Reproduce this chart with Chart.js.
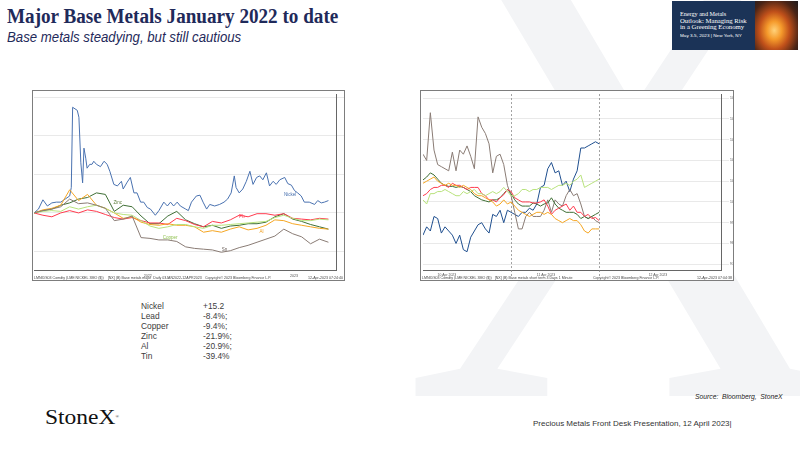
<!DOCTYPE html>
<html>
<head>
<meta charset="utf-8">
<script src="https://cdn.jsdelivr.net/npm/chart.js@4.4.0/dist/chart.umd.min.js"></script>
<style>
  html, body { margin: 0; padding: 0; width: 800px; height: 450px; overflow: hidden; background: #fff; }
  #slide { position: relative; width: 800px; height: 450px; overflow: hidden; font-family: "Liberation Sans", Arial, sans-serif; }
  #bigx { position: absolute; left: 402px; top: -190px; font-family: "Liberation Serif", serif; font-size: 700px; line-height: 1; color: #f3f4f6; transform: scaleX(0.88); transform-origin: left top; }
  .fit { position: absolute; white-space: nowrap; transform-origin: left top; }
  #title { left: 7px; top: 6px; font-family: "Liberation Serif", serif; font-weight: bold; font-size: 20px; line-height: 20px; color: #1f2a5a; }
  #subtitle { left: 7px; top: 29px; font-family: "Liberation Sans Narrow", "Liberation Sans", sans-serif; font-style: italic; font-size: 14px; line-height: 16px; color: #1f2a5a; }
  .box { position: absolute; background: #fff; border: 1px solid #7d7d7d; box-sizing: border-box; }
  .box .cv { position: absolute; left: 0; top: 0; right: 0; bottom: 0; }
  .foot { position: absolute; top: 185px; font-size: 3.6px; line-height: 4px; color: #444; white-space: nowrap; }
  #banner { position: absolute; left: 672px; top: 1px; width: 126px; height: 49px; background: #1b3357; overflow: hidden; }
  #banner .fire { position: absolute; left: 83px; top: 0; width: 43px; height: 49px;
    background: radial-gradient(ellipse at 45% 60%, #ffd27a 0%, #f59a2b 22%, #c0501a 45%, #4a2416 75%, #1d1a1e 100%); }
  #banner .fit { color: #fff; left: 8px; }
  #banner .t { font-family: "Liberation Serif", serif; font-size: 6px; line-height: 6px; }
  #banner .d { font-size: 4.4px; line-height: 5px; }
  #list { position: absolute; left: 141px; top: 301px; font-size: 8.4px; line-height: 10px; color: #3d3d3d; }
  #list div { position: relative; height: 10px; }
  #list span { position: absolute; left: 62px; }
  #source { left: 695px; top: 393px; font-style: italic; font-size: 6.6px; color: #222; }
  #deck { left: 533px; top: 419px; font-size: 8px; color: #333; }
  #logo { left: 45px; top: 406px; font-family: "Liberation Serif", serif; font-size: 20px; line-height: 22px; color: #111; }
  #logo sup { font-size: 4px; vertical-align: top; }
</style>
</head>
<body>
<div id="slide">
  <div id="bigx">X</div>

  <div id="title" class="fit">Major Base Metals January 2022 to date</div>
  <div id="subtitle" class="fit">Base metals steadying, but still cautious</div>

  <div id="banner">
    <div class="fire"></div>
    <div id="b1" class="fit t" style="top:10px">Energy and Metals</div>
    <div id="b2" class="fit t" style="top:16.5px">Outlook: Managing Risk</div>
    <div id="b3" class="fit t" style="top:23px">in a Greening Economy</div>
    <div id="b4" class="fit d" style="top:31.5px">May 3-5, 2023 | New York, NY</div>
  </div>

  <div class="box" style="left:32px; top:90px; width:313px; height:191px;">
    <div class="cv"><canvas id="longChart"></canvas></div>
    <div class="foot" style="left:1px">LMNIDS03 Comdty (LME NICKEL 3MO ($))&nbsp;&nbsp;&nbsp; [NX] (B) Base metals major&nbsp;&nbsp;Daily 03JAN2022-12APR2023</div>
    <div class="foot" style="left:172px">Copyright© 2023 Bloomberg Finance L.P.</div>
    <div class="foot" style="right:1px">12-Apr-2023 07:24:40</div>
  </div>

  <div class="box" style="left:420px; top:90px; width:314px; height:191px;">
    <div class="cv"><canvas id="shortChart"></canvas></div>
    <div class="foot" style="left:1px">LMNIDS03 Comdty (LME NICKEL 3MO ($))&nbsp;&nbsp; [NX] (B) Base metals short term 3 Days 1 Minute</div>
    <div class="foot" style="left:172px">Copyright© 2023 Bloomberg Finance L.P.</div>
    <div class="foot" style="right:1px">12-Apr-2023 07:04:38</div>
  </div>

  <div id="list"></div>

  <div id="source" class="fit">Source:&nbsp; Bloomberg,&nbsp; StoneX</div>
  <div id="logo" class="fit">StoneX<sup>®</sup></div>
  <div id="deck" class="fit">Precious Metals Front Desk Presentation, 12 April 2023|</div>
</div>

<script>
// ---- long chart: rebased to 100 on 3 Jan 2022, x = weeks since then ----
const longWeeks = [0, 2, 4, 6, 8, 10, 12, 14, 16, 18, 20, 22, 24, 26, 28, 30, 32, 34, 36, 38, 40, 42, 44, 46, 48, 50, 52, 54, 56, 58, 60, 62, 64, 66];
const zincLong   = [100, 103, 105, 110, 113, 118, 120, 126, 124, 102, 110, 108, 96, 86, 86, 96, 102, 91, 86, 82, 84, 80, 83, 84, 86, 86, 88, 95, 99, 92, 89, 85, 82, 79];
const alLong     = [100, 104, 106, 110, 130, 116, 124, 110, 106, 100, 93, 95, 88, 85, 84, 86, 84, 84, 82, 75, 77, 75, 79, 82, 78, 80, 84, 91, 90, 86, 84, 82, 80, 79];
const copperLong = [100, 102, 103, 102, 108, 105, 108, 110, 106, 100, 98, 97, 90, 83, 80, 82, 85, 85, 82, 80, 84, 84, 85, 86, 87, 88, 89, 94, 97, 93, 90, 90, 92, 91];
const leadLong   = [100, 97, 95, 100, 103, 100, 104, 102, 98, 94, 92, 94, 90, 87, 87, 85, 93, 90, 85, 82, 89, 87, 91, 97, 95, 99, 99, 97, 99, 93, 92, 91, 93, 92];
const tinLong    = [100, 103, 105, 108, 118, 112, 113, 110, 106, 90, 92, 96, 68, 67, 65, 65, 63, 56, 54, 53, 52, 49, 51, 55, 58, 62, 66, 70, 79, 73, 69, 60, 66, 62];

// nickel needs more points round the March 2022 squeeze
const nickelWeeks = [0, 1, 2, 3, 4, 5, 6, 7, 8, 8.36, 8.66, 9.7, 10.07, 10.5, 10.9, 11.2, 11.6, 11.9, 12.5, 13, 13.4, 14, 14.9, 15.7, 16.4, 17, 17.9, 18.7, 19.6, 20, 20.9, 21.6, 22.4, 23.1, 23.9, 24.6, 25.4, 26.1, 27.2, 28, 29.1, 29.9, 30.6, 31.3, 32.1, 32.8, 34, 34.6, 35.3, 36.4, 37.2, 37.9, 38.7, 39.4, 40.5, 41.6, 42.6, 43.4, 44.2, 44.9, 45.3, 46, 46.8, 47.6, 48.4, 49.1, 49.9, 50.6, 51.3, 52.1, 52.8, 53.6, 54.3, 55.1, 56.2, 56.9, 57.7, 58.4, 59.1, 59.9, 60.6, 61.7, 62.9, 63.6, 64.4, 65.1, 66];
const nickelLong  = [100, 105, 117, 109, 113, 114, 114, 118, 122, 133, 237, 233, 224, 165, 139, 184, 171, 158, 163, 163, 167, 163, 160, 167, 163, 154, 137, 135, 141, 131, 140, 146, 126, 126, 114, 114, 107, 105, 97, 103, 114, 109, 114, 109, 114, 109, 105, 103, 114, 122, 123, 114, 105, 111, 109, 111, 114, 118, 126, 148, 133, 126, 131, 141, 154, 137, 146, 148, 143, 152, 135, 141, 137, 143, 146, 138, 136, 129, 126, 122, 114, 114, 111, 116, 113, 114, 116];

const monthLabels = ['Jan', 'Feb', 'Mar', 'Apr', 'May', 'Jun', 'Jul', 'Aug', 'Sep', 'Oct', 'Nov', 'Dec', 'Jan', 'Feb', 'Mar', 'Apr'];
const yearLabels  = ['2022', '2023'];
const longTicks   = [50, 100, 150, 200, 250];
const longNotes   = [
  { text: 'Nickel', x: 57.4, y: 123, color: '#4a72b0' },
  { text: 'Zinc',   x: 18.8, y: 113, color: '#5b7d3a' },
  { text: 'Copper', x: 30.5, y: 68,  color: '#8cbf4a' },
  { text: 'Pb',     x: 46.6, y: 95,  color: '#ff3b4e' },
  { text: 'Al',     x: 51,   y: 75,  color: '#f0a020' },
  { text: 'Sn',     x: 42.7, y: 52,  color: '#6d625c' }
];

// ---- short chart: 1-minute bars rebased, x = hours from start of first day ----
const shortHours = [0, 1, 2, 3, 4, 5, 6, 7, 8, 9, 10, 11, 12, 13, 14, 15, 16, 17, 18, 19, 20, 21, 22, 23, 24, 25, 26, 27, 28, 29, 30, 31, 32, 33, 34, 35, 36, 37, 38, 39, 40, 41, 42, 43, 44, 45, 46, 47, 48];
const tinShort    = [102.3, 102.0, 104.3, 102.5, 101.8, 101.7, 101.6, 101.5, 102.4, 101.5, 102.5, 102.3, 102.7, 102.2, 101.6, 104.1, 103.6, 103.3, 102.8, 101.4, 102.2, 102.3, 101.8, 100.8, 100.3, 99.5, 98.7, 98.7, 99.3, 99.5, 99.3, 99.3, 99.3, 99.6, 100.1, 99.5, 100.1, 99.9, 99.8, 100.3, 100.6, 100.3, 100.4, 99.9, 99.3, 99.2, 99.3, 99.1, 99.0];
const nickelShort = [98.4, 98.8, 98.6, 99.3, 99.2, 98.5, 98.8, 98.6, 98.4, 98.0, 98.4, 97.7, 97.6, 98.3, 98.6, 98.9, 99.0, 98.7, 98.5, 99.4, 99.3, 99.6, 99.0, 99.6, 99.5, 99.4, 99.3, 99.5, 99.5, 99.7, 99.6, 99.9, 100.7, 100.8, 101.6, 101.9, 101.4, 101.5, 100.8, 101.0, 100.5, 101.1, 101.5, 102.6, 102.6, 102.7, 102.8, 102.9, 102.8];
const copperShort = [100.1, 99.9, 100.4, 100.4, 100.5, 100.5, 100.6, 100.5, 100.4, 100.3, 100.3, 100.5, 100.4, 100.5, 100.6, 100.4, 100.4, 100.3, 100.4, 100.5, 100.4, 100.5, 100.7, 100.5, 100.3, 100.3, 100.4, 100.6, 100.6, 100.5, 100.6, 100.6, 100.7, 100.7, 100.7, 100.6, 100.7, 100.8, 100.8, 100.9, 100.8, 101.0, 101.1, 101.3, 100.7, 100.8, 100.9, 101.0, 101.1];
const alShort     = [100.9, 101.0, 101.1, 101.2, 101.0, 100.9, 100.8, 100.9, 100.8, 100.8, 100.7, 100.8, 100.7, 100.6, 100.4, 100.3, 100.3, 100.2, 100.1, 100.0, 99.8, 99.9, 100.1, 99.9, 100.0, 99.8, 99.6, 99.5, 99.4, 99.3, 99.4, 99.5, 99.5, 99.4, 99.5, 99.4, 99.2, 99.1, 99.0, 99.1, 99.2, 99.1, 99.1, 98.9, 98.6, 98.5, 98.7, 98.7, 98.7];
const leadShort   = [100.3, 100.4, 100.6, 100.7, 100.7, 100.8, 100.8, 100.7, 100.9, 100.8, 100.8, 100.7, 100.6, 100.7, 100.7, 100.7, 100.4, 100.3, 100.1, 100.1, 100.0, 100.2, 100.35, 100.6, 100.5, 100.2, 100.1, 100.0, 100.0, 100.0, 99.95, 99.95, 100.0, 100.1, 99.8, 99.4, 99.6, 99.7, 99.8, 99.9, 99.6, 99.8, 99.5, 99.5, 99.3, 99.4, 99.2, 99.25, 99.1];
const zincShort   = [101.06, 101.2, 101.4, 101.3, 101.1, 100.9, 100.8, 100.75, 100.75, 100.7, 100.75, 100.7, 100.6, 100.5, 100.3, 100.2, 100.1, 100.05, 100.0, 100.1, 100.1, 100.2, 100.4, 100.6, 100.4, 100.1, 99.9, 99.8, 99.8, 99.8, 99.95, 99.9, 99.8, 99.9, 99.95, 100.2, 99.9, 99.7, 99.6, 99.5, 99.5, 99.5, 99.4, 99.2, 99.3, 99.2, 99.3, 99.4, 99.5];

const timeTicks  = [4, 10, 16, 22, 28, 34, 40, 46, 52, 58, 64, 70, 76];
const timeLabels = ['04:00', '10:00', '16:00', '22:00', '04:00', '10:00', '16:00', '22:00', '04:00', '10:00', '16:00', '22:00', '04:00'];
const dayLabels  = ['10 Apr 2023', '11 Apr 2023', '12 Apr 2023'];
const dayLabelAt = [6.5, 33.5, 64];
const dayBreaks  = [24, 48];
const shortTicks = [97, 98, 99, 100, 101, 102, 103, 104, 105];

// ---- text block under the left chart ----
const listNames  = ['Nickel', 'Lead', 'Copper', 'Zinc', 'Al', 'Tin'];
const listValues = ['+15.2', '-8.4%;', '-9.4%;', '-21.9%;', '-20.9%;', '-39.4%'];

const colors = {
  nickel: '#4a72b0', nickelDark: '#1f4f8f', zinc: '#3f6f35', lead: '#ff3b4e',
  al: '#f5a623', copper: '#b8e27c', tin: '#8a7c75'
};

Chart.defaults.font.family = '"Liberation Sans", Arial, sans-serif';
Chart.defaults.color = '#555';

const series = (xs, ys, color) => ({
  data: xs.map((x, i) => ({ x, y: ys[i] })),
  borderColor: color,
  borderWidth: 1,
  pointRadius: 0,
  tension: 0,
  fill: false
});

const notesPlugin = {
  id: 'notes',
  afterDraw(chart, args, opts) {
    const { ctx, chartArea, scales: { x, y } } = chart;
    ctx.save();
    ctx.textAlign = 'center';
    ctx.textBaseline = 'middle';
    (opts.items || []).forEach((it) => {
      ctx.font = `${it.size || 4.5}px "Liberation Sans"`;
      ctx.fillStyle = it.color || '#555';
      const py = it.y !== undefined ? y.getPixelForValue(it.y) : chartArea.bottom + it.dy;
      ctx.fillText(it.text, x.getPixelForValue(it.x), py);
    });
    ctx.restore();
  }
};

const breaksPlugin = {
  id: 'breaks',
  beforeDatasetsDraw(chart, args, opts) {
    const { ctx, chartArea, scales: { x } } = chart;
    ctx.save();
    ctx.strokeStyle = '#8a8a8a';
    ctx.lineWidth = 0.8;
    ctx.setLineDash([2, 2]);
    (opts.at || []).forEach((v) => {
      const px = Math.round(x.getPixelForValue(v)) + 0.5;
      ctx.beginPath();
      ctx.moveTo(px, chartArea.top);
      ctx.lineTo(px, chartArea.bottom + 8);
      ctx.stroke();
    });
    ctx.restore();
  }
};

const baseOptions = () => ({
  animation: false,
  responsive: true,
  maintainAspectRatio: false,
  events: [],
  plugins: { legend: { display: false }, tooltip: { enabled: false } }
});

// mid-month positions, in weeks from 3 Jan 2022
const start = Date.UTC(2022, 0, 3);
const monthWeeks = monthLabels.map((m, i) => (Date.UTC(2022, i, 15) - start) / (7 * 864e5));

const longOptions = baseOptions();
longOptions.layout = { padding: { left: 1, top: 1, right: 0, bottom: 4 } };
longOptions.plugins.notes = {
  items: longNotes.concat([
    { text: yearLabels[0], x: monthWeeks[5] + 2.2, dy: 5.5, size: 3.6, color: '#555' },
    { text: yearLabels[1], x: monthWeeks[13], dy: 5.5, size: 3.6, color: '#555' }
  ])
};
longOptions.scales = {
  x: {
    type: 'linear', min: 0, max: 67.7,
    grid: { display: false },
    border: { color: '#666' },
    afterBuildTicks: (s) => { s.ticks = monthWeeks.map((v) => ({ value: v })); },
    afterFit: (s) => { s.height = 6; },
    ticks: { font: { size: 3.6 }, padding: 0, maxRotation: 0, autoSkip: false, callback: (v, i) => monthLabels[i] }
  },
  y: {
    position: 'right', min: 26, max: 254,
    grid: { color: '#e3e3e3', lineWidth: 0.8 },
    border: { color: '#666' },
    afterBuildTicks: (s) => { s.ticks = longTicks.map((v) => ({ value: v })); },
    afterFit: (s) => { s.width = 8; },
    ticks: { font: { size: 3.6 }, padding: 1 }
  }
};

new Chart(document.getElementById('longChart'), {
  type: 'line',
  data: {
    datasets: [
      series(longWeeks, tinLong, colors.tin),
      series(longWeeks, copperLong, colors.copper),
      series(longWeeks, alLong, colors.al),
      series(longWeeks, leadLong, colors.lead),
      series(longWeeks, zincLong, colors.zinc),
      series(nickelWeeks, nickelLong, colors.nickel)
    ]
  },
  options: longOptions,
  plugins: [notesPlugin]
});

const shortOptions = baseOptions();
shortOptions.layout = { padding: { left: 2, top: 1, right: 0, bottom: 6 } };
shortOptions.plugins.breaks = { at: dayBreaks };
shortOptions.plugins.notes = {
  items: dayLabels.map((d, i) => ({ text: d, x: dayLabelAt[i], dy: 5, size: 3.4, color: '#555' }))
};
shortOptions.scales = {
  x: {
    type: 'linear', min: 0, max: 81.2,
    grid: { display: false },
    border: { color: '#666' },
    afterBuildTicks: (s) => { s.ticks = timeTicks.map((v) => ({ value: v })); },
    afterFit: (s) => { s.height = 4; },
    ticks: { font: { size: 3.4 }, padding: 0, maxRotation: 0, autoSkip: false, callback: (v, i) => timeLabels[i] }
  },
  y: {
    position: 'right', min: 96.72, max: 105.2,
    grid: { color: '#e3e3e3', lineWidth: 0.8 },
    border: { color: '#666' },
    afterBuildTicks: (s) => { s.ticks = shortTicks.map((v) => ({ value: v })); },
    afterFit: (s) => { s.width = 12; },
    ticks: { font: { size: 3.4 }, padding: 1, callback: (v) => v.toFixed(2) }
  }
};

new Chart(document.getElementById('shortChart'), {
  type: 'line',
  data: {
    datasets: [
      series(shortHours, copperShort, colors.copper),
      series(shortHours, alShort, colors.al),
      series(shortHours, leadShort, colors.lead),
      series(shortHours, zincShort, colors.zinc),
      series(shortHours, tinShort, colors.tin),
      series(shortHours, nickelShort, colors.nickelDark)
    ]
  },
  options: shortOptions,
  plugins: [notesPlugin, breaksPlugin]
});

const list = document.getElementById('list');
listNames.forEach((name, i) => {
  const row = document.createElement('div');
  row.textContent = name;
  const val = document.createElement('span');
  val.textContent = listValues[i];
  row.appendChild(val);
  list.appendChild(row);
});

// squeeze a line of text to the width it has on the slide
const fitWidth = (id, width) => {
  const el = document.getElementById(id);
  el.style.transform = `scaleX(${width / el.scrollWidth})`;
};
fitWidth('title', 331);
fitWidth('subtitle', 234);
fitWidth('source', 87);
fitWidth('deck', 199);
fitWidth('logo', 74);
fitWidth('b1', 46);
fitWidth('b2', 67);
fitWidth('b3', 64);
fitWidth('b4', 62);
</script>
</body>
</html>
